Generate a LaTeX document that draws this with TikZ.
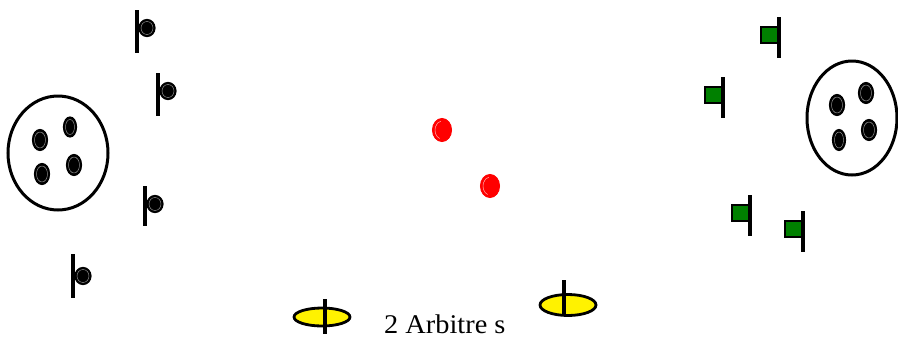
\documentclass[tikz,border=0pt]{standalone}
\usepackage{fontspec}
\setmainfont{Liberation Serif}
\begin{document}
\begin{tikzpicture}[x=1pt,y=-1pt,
  bar/.style={line width=3.2pt,black},
  bdot/.style={fill=black,draw=black,line width=1.2pt},
  ring/.style={draw=gray!70,line width=0.4pt},
  rdot/.style={fill=red,draw=red,line width=1pt},
  rring/.style={draw=red!30,line width=0.5pt},
  gflag/.style={fill=green!50!black,draw=black,line width=2.8pt},
  yell/.style={fill=yellow,draw=black,line width=2.8pt},
  team/.style={draw=black,line width=3pt}]
\useasboundingbox (0,0) rectangle (898,338);
% left players
\newcommand{\lplayer}[4]{%
  \draw[bar] (#1,#2) -- (#1,#3);
  \path[bdot] (#1+10,#4) ellipse (8 and 8.5);
  \draw[ring] (#1+10,#4) ellipse (6 and 6.5);}
\lplayer{137}{10}{53}{28}
\lplayer{158}{73}{116}{91}
\lplayer{145}{186}{226}{204}
\lplayer{73}{254}{298}{276}
% left team circle
\draw[team] (58,153) ellipse (50 and 57);
\newcommand{\tdot}[4]{\path[bdot] (#1,#2) ellipse (#3 and #4);
  \draw[ring] (#1,#2) ellipse (#3-2 and #4-2.5);}
\tdot{40}{140}{7.5}{10.5}
\tdot{70}{127}{6.5}{10}
\tdot{42}{174}{7.5}{10.5}
\tdot{74}{165}{7.5}{10.5}
% right team circle
\draw[team] (852,118) ellipse (45 and 57);
\tdot{837}{105}{7.5}{10.5}
\tdot{866}{93}{7.5}{10.5}
\tdot{839}{140}{6.5}{10.5}
\tdot{869}{130}{7.5}{10.5}
% green players
\newcommand{\gplayer}[2]{%
  \draw[gflag] (#1,#2) rectangle (#1+17,#2+16);
  \draw[bar] (#1+18,#2-10) -- (#1+18,#2+31);}
\gplayer{761}{27}
\gplayer{705}{87}
\gplayer{732}{205}
\gplayer{785}{221}
% red balls
\path[rdot] (442,130) ellipse (9.5 and 11.5);
\draw[rring] (439.6,138.5) arc (110:260:7 and 9);
\path[rdot] (490,186) ellipse (9.5 and 11.5);
\draw[rring] (487.6,194.5) arc (110:260:7 and 9);
% referees
\draw[yell] (322,317) ellipse (28 and 9);
\draw[bar] (325,299) -- (325,334);
\draw[yell] (568,305) ellipse (28 and 10.5);
\draw[bar] (564,280) -- (564,315);
\node[anchor=base west,inner sep=0pt,xscale=1.05,font=\fontsize{27}{30}\selectfont] (lbl) at (384,333) {2 Arbitre s};
\end{tikzpicture}
\end{document}
